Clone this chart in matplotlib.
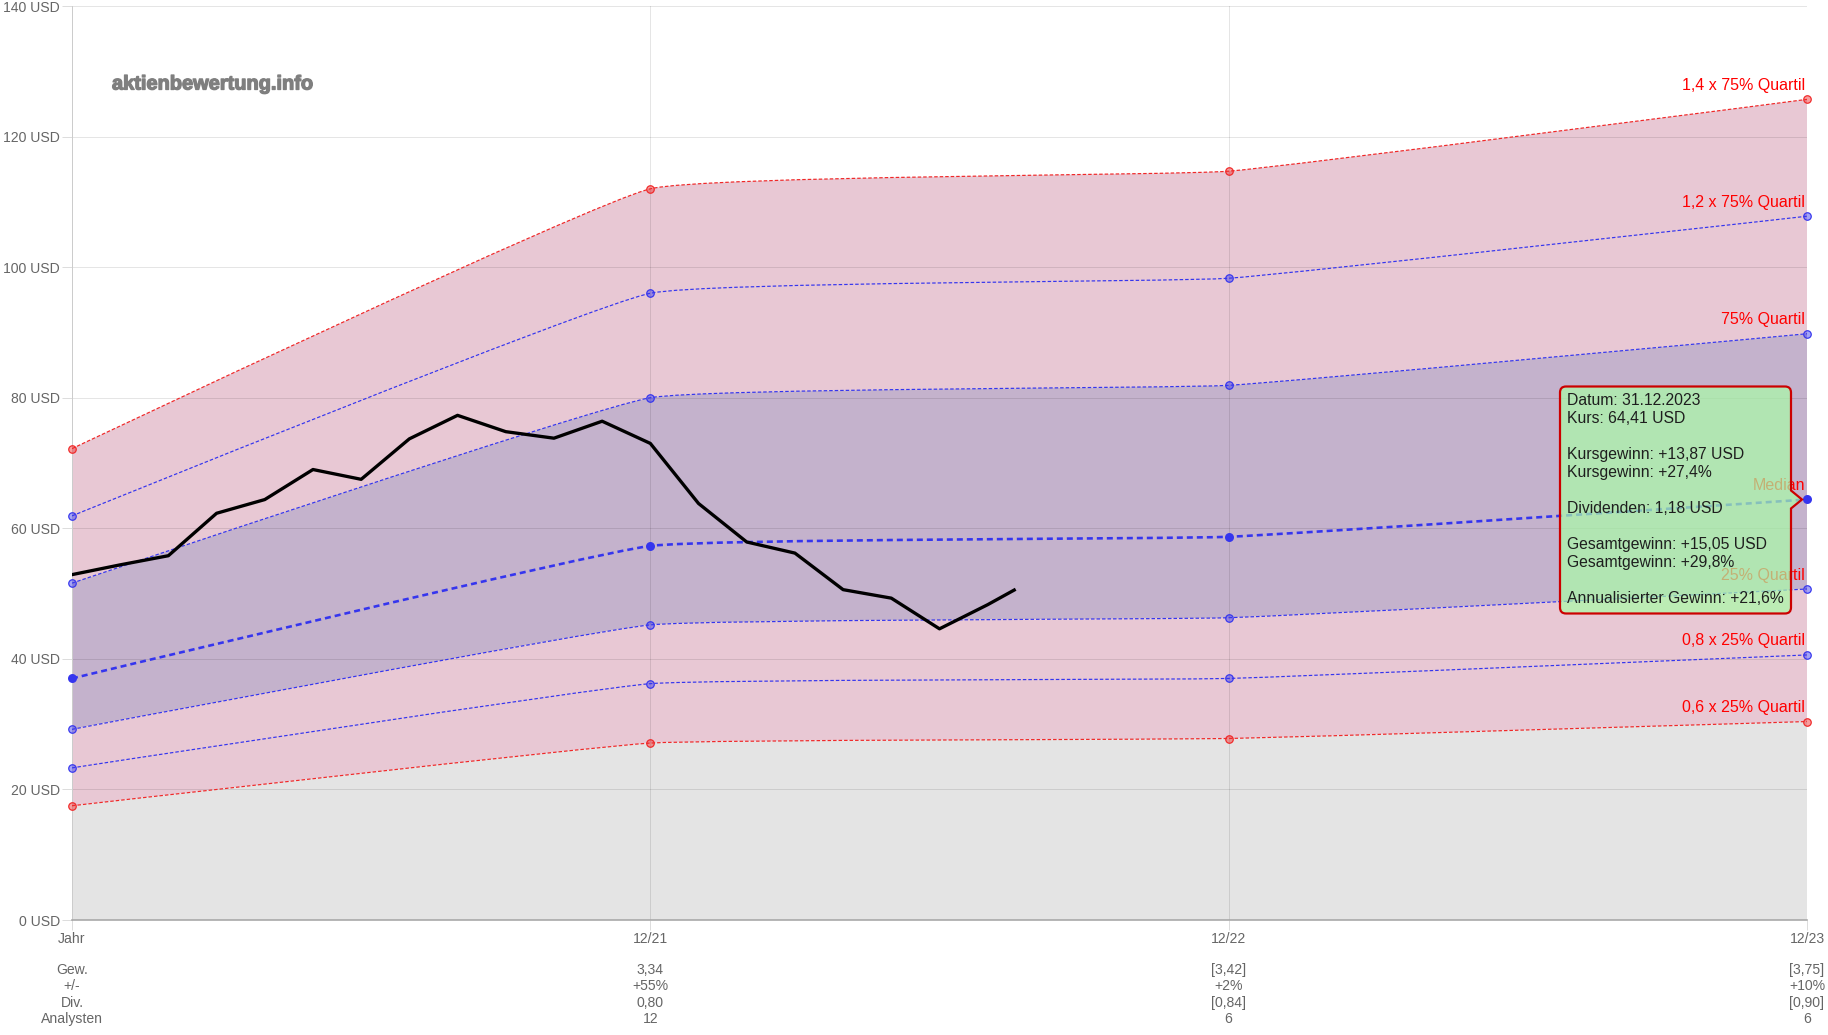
import numpy as np
import matplotlib as mpl
mpl.use('Agg')
import matplotlib.pyplot as plt
import matplotlib.patheffects as pe
from matplotlib.path import Path
from matplotlib.patches import PathPatch
from matplotlib.transforms import IdentityTransform

# -----------------------------------------------------------
W, H, dpi = 1828, 1035, 100
pt = 72./dpi   # points per pixel

mpl.rc('lines', scale_dashes=False)
mpl.rc('font', family=['Liberation Sans', 'DejaVu Sans'])
# -----------------------------------------------------------

periods = ['Jahr', '12/21', '12/22', '12/23']
row_names = ['Gew.', '+/-', 'Div.', 'Analysten']
eps_row = ['3,34', '[3,42]', '[3,75]']
growth_row = ['+55%', '+2%', '+10%']
div_row = ['0,80', '[0,84]', '[0,90]']
analyst_row = ['12', '6', '6']

# valuation bands at Jahr, 12/21, 12/22, 12/23 (USD)
r14 = [72.2, 112.0, 114.7, 125.7]
b12 = [61.9, 96.0, 98.3, 107.8]
q75 = [51.6, 80.0, 81.9, 89.8]
med = [37.0, 57.3, 58.7, 64.41]
q25 = [29.2, 45.2, 46.3, 50.7]
b08 = [23.3, 36.2, 37.0, 40.6]
r06 = [17.5, 27.1, 27.8, 30.4]
band_names = ['1,4 x 75% Quartil', '1,2 x 75% Quartil', '75% Quartil', 'Median',
              '25% Quartil', '0,8 x 25% Quartil', '0,6 x 25% Quartil']

# share price, months since start
price_months = [0, 1, 2, 3, 4, 5, 6, 7, 8, 9, 10, 11, 12, 13, 14, 15, 16, 17, 18, 19, 19.55]
price = [52.9, 54.4, 55.8, 62.3, 64.4, 69.0, 67.5, 73.7, 77.3, 74.8, 73.8, 76.4,
         73.0, 63.8, 57.9, 56.2, 50.6, 49.3, 44.6, 48.3, 50.54]

tooltip_lines = ['Datum: 31.12.2023', 'Kurs: 64,41 USD', '',
                 'Kursgewinn: +13,87 USD', 'Kursgewinn: +27,4%', '',
                 'Dividenden: 1,18 USD', '',
                 'Gesamtgewinn: +15,05 USD', 'Gesamtgewinn: +29,8%', '',
                 'Annualisierter Gewinn: +21,6%']

xpos = np.arange(len(periods))

# colours
RED = '#f02828'
BLUE = '#3535ee'
PINK = '#e8c8d4'
PURPLE = '#c4b2cc'
GREY = '#e4e4e4'
TICK = 14*pt

# -----------------------------------------------------------
fig = plt.figure(figsize=(W/dpi, H/dpi), dpi=dpi)
x0, x1, ytop, ybot = 72, 1807, 6, 920
ax = fig.add_axes([x0/W, 1-ybot/H, (x1-x0)/W, (ybot-ytop)/H])
ax.set_xlim(0, 3)
ax.set_ylim(0, 140)
sx = (x1-x0)/3.
sy = (ybot-ytop)/140.


def spline(xs, ys, t=0.1):
    # chart.js style bezier control points, computed in pixel space
    P = np.column_stack([np.asarray(xs, float)*sx, np.asarray(ys, float)*sy])
    cprev, cnext = P.copy(), P.copy()
    for i in range(1, len(P)-1):
        a, b, c = P[i-1], P[i], P[i+1]
        d01, d12 = np.hypot(*(b-a)), np.hypot(*(c-b))
        cprev[i] = b - t*d01/(d01+d12)*(c-a)
        cnext[i] = b + t*d12/(d01+d12)*(c-a)
    s = np.array([sx, sy])
    return P/s, cprev/s, cnext/s


def fwd(ys):
    P, cp, cn = spline(xpos, ys)
    v, c = [P[0]], [Path.MOVETO]
    for i in range(len(P)-1):
        v += [cn[i], cp[i+1], P[i+1]]
        c += [Path.CURVE4]*3
    return v, c


def back(ys):
    P, cp, cn = spline(xpos, ys)
    v, c = [P[-1]], [Path.LINETO]
    for i in range(len(P)-2, -1, -1):
        v += [cp[i+1], cn[i], P[i]]
        c += [Path.CURVE4]*3
    return v, c


def band(upper, lower, color):
    v1, c1 = fwd(upper)
    v2, c2 = back(lower)
    p = Path(v1+v2+[v1[0]], c1+c2+[Path.CLOSEPOLY])
    ax.add_patch(PathPatch(p, facecolor=color, edgecolor='none', zorder=1))


band(r14, q75, PINK)
band(q75, q25, PURPLE)
band(q25, r06, PINK)
band(r06, [0]*4, GREY)

# ---- band lines ----
bands = [r14, b12, q75, med, q25, b08, r06]
colors = [RED, BLUE, BLUE, BLUE, BLUE, BLUE, RED]
for name, ys, col in zip(band_names, bands, colors):
    v, c = fwd(ys)
    if name == 'Median':
        ax.add_patch(PathPatch(Path(v, c), fill=False, edgecolor=col, lw=2.6*pt,
                               linestyle=(0, (6*pt, 4*pt)), zorder=3))
        ax.plot(xpos, ys, 'o', color=col, ms=9*pt, mew=0, clip_on=False, zorder=4)
    else:
        ax.add_patch(PathPatch(Path(v, c), fill=False, edgecolor=col, lw=1.2*pt,
                               linestyle=(0, (3.5*pt, 2*pt)), zorder=3))
        ax.plot(xpos, ys, 'o', mfc=mpl.colors.to_rgba(col, 0.45), mec=col,
                ms=7.5*pt, mew=1.2*pt, clip_on=False, zorder=4)
    ax.annotate(name, xy=(3, ys[-1]), xytext=(-2*pt, 14*pt), textcoords='offset points',
                ha='right', va='center', color='#ff0000', fontsize=16*pt, zorder=5)

# ---- share price ----
ax.plot(np.array(price_months)/12., price, color='k', lw=3.3*pt,
        solid_joinstyle='round', zorder=5)

# ---- axes ----
ax.set_yticks(range(0, 141, 20))
ax.set_yticklabels([f'{v} USD' for v in range(0, 141, 20)])
ax.set_xticks(xpos)
ax.set_xticklabels(periods)
ax.tick_params(axis='y', length=10*pt, width=1*pt, color='#dddddd', labelcolor='#666666',
               labelsize=TICK, pad=2*pt)
ax.tick_params(axis='x', length=10*pt, width=1*pt, color='#dddddd', labelcolor='#666666',
               labelsize=TICK, pad=2*pt)
ax.set_axisbelow('line')
ax.grid(True, color='k', alpha=0.1, lw=1*pt)
for s in ['top', 'right']:
    ax.spines[s].set_visible(False)
ax.spines['left'].set_color('#cccccc')
ax.spines['left'].set_linewidth(1*pt)
ax.spines['bottom'].set_color('#a6a6a6')
ax.spines['bottom'].set_linewidth(1.6*pt)
ax.spines['left'].set_zorder(2)
ax.spines['bottom'].set_zorder(2)

# ---- table below the x axis ----
columns = [row_names] + [list(r) for r in zip(eps_row, growth_row, div_row, analyst_row)]
for x, col in zip(xpos, columns):
    for r, txt in enumerate(col):
        ax.annotate(txt, xy=(x, 0), xycoords=ax.get_xaxis_transform(),
                    xytext=(0, -(50+r*16.3)*pt), textcoords='offset points',
                    ha='center', va='center', color='#666666', fontsize=TICK,
                    annotation_clip=False)

# ---- watermark ----
fig.text(112/W, 1-84/H, 'aktienbewertung.info', ha='left', va='center',
         fontsize=20*pt, weight='heavy', color='#7f7f7f',
         path_effects=[pe.withStroke(linewidth=1.3*pt, foreground='#7f7f7f')])

# ---- tooltip ----
fig.canvas.draw()
Px, Py = ax.transData.transform((3, med[-1]))
tipx = Px-5
R = Px-16
L = R-231
T = Py+113
B = Py-114
rr, ah = 6, 9
verts = [(L+rr, B), (R-rr, B), (R, B), (R, B+rr), (R, Py-ah), (tipx, Py), (R, Py+ah),
         (R, T-rr), (R, T), (R-rr, T), (L+rr, T), (L, T), (L, T-rr), (L, B+rr), (L, B),
         (L+rr, B), (L+rr, B)]
codes = [Path.MOVETO, Path.LINETO, Path.CURVE3, Path.CURVE3, Path.LINETO, Path.LINETO,
         Path.LINETO, Path.LINETO, Path.CURVE3, Path.CURVE3, Path.LINETO, Path.CURVE3,
         Path.CURVE3, Path.LINETO, Path.CURVE3, Path.CURVE3, Path.CLOSEPOLY]
tip = PathPatch(Path(verts, codes), facecolor=(170/255., 252/255., 167/255., 0.7),
                edgecolor='#cc0000', lw=2.2*pt, transform=IdentityTransform(), zorder=6)
ax.add_artist(tip)
tip.set_clip_on(False)
for i, line in enumerate(tooltip_lines):
    if line:
        ax.text(L+7, T-14-i*18, line, transform=IdentityTransform(), ha='left', va='center',
                fontsize=15.7*pt, color='#1e1e1e', zorder=7, clip_on=False)

plt.savefig('out.png', dpi=dpi)
